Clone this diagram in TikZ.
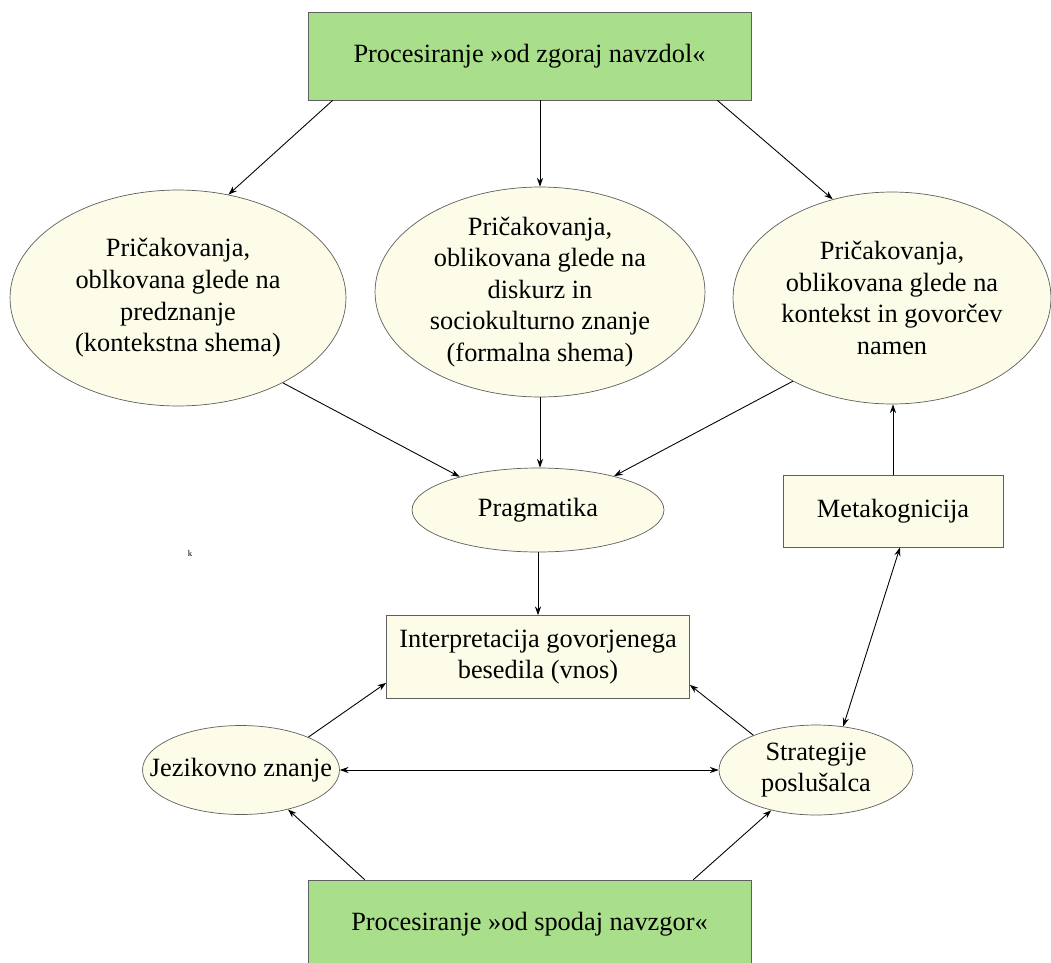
\documentclass[tikz,border=0pt]{standalone}
\usepackage{fontspec}
\setmainfont{Liberation Serif}
\usetikzlibrary{shapes.geometric, arrows.meta}
\definecolor{procgreen}{RGB}{169,223,138}
\definecolor{creambg}{RGB}{252,252,232}
\definecolor{edgegray}{RGB}{95,95,95}

\begin{document}
\begin{tikzpicture}[x=0.02cm, y=-0.02cm,
        greenbox/.style={draw=edgegray, rectangle, fill=procgreen, minimum width=8.86cm, minimum height=1.76cm, inner sep=0pt, font=\fontsize{15}{18}\selectfont},
        plainbox/.style={draw=edgegray, rectangle, fill=creambg, inner sep=0pt, align=center, font=\fontsize{15}{18}\selectfont},
        bubble/.style={draw=edgegray, ellipse, fill=creambg, inner sep=0pt},
        txt/.style={align=center, font=\fontsize{15}{18}\selectfont},
        arr/.style={-{Stealth[length=5pt, width=3.5pt]}, line width=0.5pt},
        dblarr/.style={{Stealth[length=5pt, width=3.5pt]}-{Stealth[length=5pt, width=3.5pt]}, line width=0.5pt}
    ]
    \useasboundingbox[fill=white] (0,0) rectangle (1051,963);

    % Top-down processing
    \node[greenbox] (topdown) at (529.5,56) {Procesiranje »od zgoraj navzdol«};
    \node[bubble, minimum width=6.72cm, minimum height=4.32cm,
        label={[txt]center:{Pričakovanja,\\oblkovana glede na\\predznanje\\(kontekstna shema)}}] (expA) at (178,298) {};
    \node[bubble, minimum width=6.6cm, minimum height=4.2cm,
        label={[txt]center:{Pričakovanja,\\oblikovana glede na\\diskurz in\\sociokulturno znanje\\(formalna shema)}}] (expB) at (540,292) {};
    \node[bubble, minimum width=6.36cm, minimum height=4.24cm,
        label={[txt]center:{Pričakovanja,\\oblikovana glede na\\kontekst in govorčev\\namen}}] (expC) at (892,298) {};

    % Middle part
    \node[bubble, minimum width=5.04cm, minimum height=1.68cm, label={[txt]center:Pragmatika}] (prag) at (538,510) {};
    \node[plainbox, minimum width=4.4cm, minimum height=1.44cm] (meta) at (893,511) {Metakognicija};
    \node[plainbox, minimum width=6.06cm, minimum height=1.66cm] (interp) at (538,657) {Interpretacija govorjenega\\besedila (vnos)};
    \node (stray) at (190,553) {\fontsize{5}{6}\selectfont k};

    % Bottom-up processing
    \node[bubble, minimum width=3.94cm, minimum height=1.78cm, label={[txt]center:Jezikovno znanje}] (lang) at (241,770) {};
    \node[bubble, minimum width=3.88cm, minimum height=1.8cm, label={[txt]center:{Strategije\\poslušalca}}] (strat) at (816,770) {};
    \node[greenbox] (bottomup) at (529.5,924) {Procesiranje »od spodaj navzgor«};

    % Arrows
    \draw[arr] ([xshift=0.5cm]topdown.south west) -- (expA.64);
    \draw[arr] (expB.north |- topdown.south) -- (expB.north);
    \draw[arr] ([xshift=-0.68cm]topdown.south east) -- (expC.121);
    \draw[arr] (expA.-39) -- (prag.157);
    \draw[arr] (expB.south) -- (expB.south |- prag.north);
    \draw[arr] (expC.220) -- (prag.24);
    \draw[arr] (prag.south) -- (interp.north);
    \draw[arr] (meta.north) -- (meta.north |- expC.south);
    \draw[dblarr] ([xshift=0.14cm]meta.south) -- (strat.58);
    \draw[arr] (lang.26) -- ([yshift=0.32cm]interp.south west);
    \draw[arr] (strat.151) -- ([yshift=0.28cm]interp.south east);
    \draw[dblarr] (lang.east) -- (strat.west);
    \draw[arr] ([xshift=1.14cm]bottomup.north west) -- (lang.-40);
    \draw[arr] ([xshift=-1.16cm]bottomup.north east) -- (strat.222);

\end{tikzpicture}
\end{document}
